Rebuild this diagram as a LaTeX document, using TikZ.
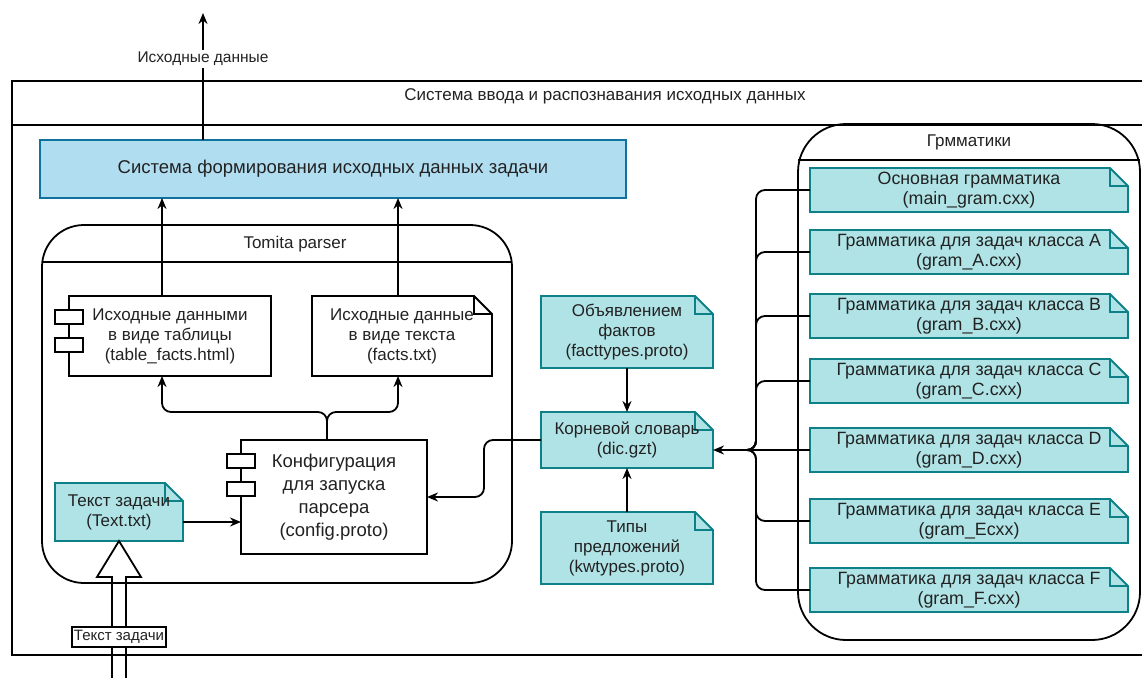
\documentclass[tikz,border=0pt]{standalone}
\usepackage{fontspec}
\setmainfont{Liberation Sans}
\usetikzlibrary{arrows.meta,calc,backgrounds}

\definecolor{tealfill}{HTML}{B0E3E6}
\definecolor{tealline}{HTML}{0E8088}
\definecolor{bluefill}{HTML}{B1DDF0}
\definecolor{blueline}{HTML}{10739E}
\definecolor{txt}{HTML}{222222}

\begin{document}
\begin{tikzpicture}[
        x=1pt, y=-1pt,                % 1 px = 1 pt, y вниз
        >={Stealth[length=11pt,width=9pt]},
        line width=1.8pt,
        every node/.style={
            text=txt,
            align=center,
            inner sep=0pt,
            outer sep=0pt,
            font=\fontsize{17}{20}\selectfont
        },
        lane/.style={draw, rounded corners=#1},
        lane/.default=42pt,
        block/.style={draw, fill=white},
        gram/.style={minimum width=318pt, minimum height=44pt,
            font=\fontsize{17.8}{20}\selectfont},
        port/.style={draw, fill=white},
        lbl/.style={fill=white, inner sep=2pt, font=\fontsize{15.5}{17}\selectfont},
        tealnote/.style={fill=tealfill, draw=tealline, line width=1.8pt},
        plainnote/.style={fill=white, draw=black, line width=1.8pt},
        fold/.style={line width=1.8pt},
        arrow/.style={->},
        link/.style={rounded corners=9pt}
    ]
    \useasboundingbox (0,0) rectangle (1142,677);
    \clip (0,0) rectangle (1142,677);

    % внешняя система
    \node[draw, minimum width=1148pt, minimum height=574pt] (outer) at (586,368) {};
    \draw ($(outer.north west)+(0,44)$) -- ($(outer.north east)+(0,44)$);
    \node (systitle) at (605,96) {Система ввода и распознавания исходных данных};

    % формирование исходных данных
    \node[draw=blueline, fill=bluefill, minimum width=586pt, minimum height=58pt,
          font=\fontsize{18.5}{22}\selectfont] (sysform) at (333,169)
          {Система формирования исходных данных задачи};
    \coordinate (res) at (203,13);
    \draw[arrow] (sysform.north -| res) -- node[lbl, pos=0.64] (reslbl) {Исходные данные} (res);

    % Tomita parser
    \node[lane, minimum width=470pt, minimum height=358pt] (tomita) at (277,404) {};
    \draw ($(tomita.north west)+(0,37)$) -- ($(tomita.north east)+(0,37)$);
    \node (tomtitle) at (295,244) {Tomita parser};

    \node[block, minimum width=202pt, minimum height=80pt] (tbl) at (170,336)
          {Исходные данными\\в виде таблицы\\(table\_facts.html)};
    \node[minimum width=180pt, minimum height=80pt] (facts) at (402,336)
          {Исходные данные\\в виде текста\\(facts.txt)};
    \node[block, minimum width=186pt, minimum height=114pt,
          font=\fontsize{18.5}{23}\selectfont] (cfg) at (334,497)
          {Конфигурация\\для запуска\\парсера\\(config.proto)};
    \foreach \n in {tbl,cfg} {
        \draw[port] ($(\n.north west)+(-14,14)$) rectangle ++(28,14);
        \draw[port] ($(\n.north west)+(-14,42)$) rectangle ++(28,14);
    }
    \node[minimum width=128pt, minimum height=58pt] (tnote) at (119,512)
          {Текст задачи\\(Text.txt)};

    % словари
    \node[minimum width=172pt, minimum height=72pt] (fct) at (627,332)
          {Объявлением\\фактов\\(facttypes.proto)};
    \node[minimum width=172pt, minimum height=56pt] (dic) at (627,440)
          {Корневой словарь\\(dic.gzt)};
    \node[minimum width=172pt, minimum height=72pt] (kwt) at (627,548)
          {Типы\\предложений\\(kwtypes.proto)};

    % грамматики
    \node[lane=48pt, minimum width=342pt, minimum height=516pt] (gram) at (969,382) {};
    \draw ($(gram.north west)+(0,36)$) -- ($(gram.north east)+(0,36)$);
    \node (gramtitle) at (969,142) {Грмматики};

    \node[gram] (gmain) at (969,190) {Основная грамматика\\(main\_gram.cxx)};
    \node[gram] (ga) at (969,252) {Грамматика для задач класса A\\(gram\_A.cxx)};
    \node[gram] (gb) at (969,316) {Грамматика для задач класса B\\(gram\_B.cxx)};
    \node[gram] (gc) at (969,381) {Грамматика для задач класса C\\(gram\_C.cxx)};
    \node[gram] (gd) at (969,450) {Грамматика для задач класса D\\(gram\_D.cxx)};
    \node[gram] (ge) at (969,521) {Грамматика для задач класса E\\(gram\_Ecxx)};
    \node[gram] (gf) at (969,590) {Грамматика для задач класса F\\(gram\_F.cxx)};

    % контуры документов
    \begin{scope}[on background layer]
        \foreach \n in {tnote,fct,dic,kwt,gmain,ga,gb,gc,gd,ge,gf} {
            \draw[tealnote] (\n.north west) -- ($(\n.north east)+(-18,0)$)
                -- ($(\n.north east)+(0,18)$) -- (\n.south east) -- (\n.south west) -- cycle;
            \draw[fold, tealline] ($(\n.north east)+(-18,0)$) -- ($(\n.north east)+(-18,18)$)
                -- ($(\n.north east)+(0,18)$);
        }
        \draw[plainnote] (facts.north west) -- ($(facts.north east)+(-18,0)$)
            -- ($(facts.north east)+(0,18)$) -- (facts.south east) -- (facts.south west) -- cycle;
        \draw[fold] ($(facts.north east)+(-18,0)$) -- ($(facts.north east)+(-18,18)$)
            -- ($(facts.north east)+(0,18)$);
    \end{scope}

    % связи
    \draw[arrow] ([xshift=-8pt]tbl.north) -- ([xshift=-8pt]tbl.north |- sysform.south);
    \draw[arrow] ([xshift=-4pt]facts.north) -- ([xshift=-4pt]facts.north |- sysform.south);
    \coordinate (split) at (327,412);
    \draw[arrow, link] ([xshift=-7pt]cfg.north) -- (split) -| ([xshift=-8pt]tbl.south);
    \draw[arrow, link] ([xshift=-7pt]cfg.north) -- (split) -| ([xshift=-4pt]facts.south);
    \draw[arrow] ([yshift=-10pt]tnote.east) -- ([yshift=-10pt]tnote.east -| cfg.west);
    \draw[arrow] (fct) -- (dic);
    \draw[arrow] (kwt) -- (dic);
    \draw[arrow, link] (dic.west) -| ($(cfg.east)+(57,0)$) -- (cfg.east);

    \coordinate (hub) at (747,450);
    \foreach \g in {gmain,ga,gb,gc,ge,gf}
        \draw[link] (\g.west) -| ($(hub)+(9,0)$) -- (hub);
    \draw[arrow] (gd.west) -- (gd.west -| dic.east);

    % входной текст
    \draw ($(tnote.south)+(-7,140)$) -- ($(tnote.south)+(-7,36)$) -- ($(tnote.south)+(-22,36)$)
        -- (tnote.south) -- ($(tnote.south)+(22,36)$) -- ($(tnote.south)+(7,36)$)
        -- ($(tnote.south)+(7,140)$);
    \node[draw, fill=white, inner sep=2pt, minimum height=20pt,
          font=\fontsize{15}{17}\selectfont] (inlbl) at (119,637) {Текст задачи};
\end{tikzpicture}
\end{document}
